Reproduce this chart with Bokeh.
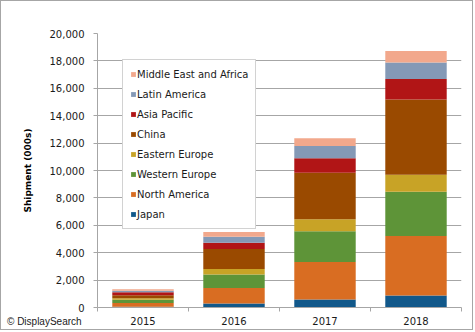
from bokeh.plotting import figure
from bokeh.models import (Range1d, FixedTicker, NumeralTickFormatter, Legend, LegendItem, Title, Div)
from bokeh.layouts import column
from bokeh.embed import file_html
from bokeh.resources import INLINE

years = ["2015", "2016", "2017", "2018"]
regions = ["Japan", "North America", "Western Europe", "Eastern Europe", "China",
           "Asia Pacific", "Latin America", "Middle East and Africa"]
japan = [60, 290, 585, 880]
north_america = [260, 1130, 2735, 4340]
western_europe = [240, 995, 2240, 3220]
eastern_europe = [110, 395, 880, 1245]
china = [220, 1460, 3390, 5505]
asia_pacific = [230, 460, 1070, 1490]
latin_america = [110, 440, 880, 1200]
middle_east_africa = [100, 345, 580, 850]
colors = ["#11588a", "#d96d22", "#5e9438", "#c8a326", "#9a4a00", "#b11516", "#8499b6", "#f2a88c"]
y_ticks = [0, 2000, 4000, 6000, 8000, 10000, 12000, 14000, 16000, 18000, 20000]

# category slots: each year occupies one unit of the x scale
xpos = [i + 0.5 for i in range(len(years))]
data = {"x": xpos}
series = [japan, north_america, western_europe, eastern_europe, china,
          asia_pacific, latin_america, middle_east_africa]
for name, vals in zip(regions, series):
    data[name] = vals

FONT = "DejaVu Sans"

p = figure(width=473, height=330, output_backend="svg", toolbar_location=None,
           x_range=Range1d(0, len(years)), y_range=Range1d(0, 20000),
           min_border_left=96, min_border_right=13,
           min_border_top=32, min_border_bottom=24)
p.styles = {"border": "1px solid #a6a6a6"}
p.outline_line_color = None
p.background_fill_color = "white"
p.border_fill_color = "white"

renderers = p.vbar_stack(regions, x="x", width=0.675, color=colors, source=data,
                         line_color=None)

# y axis
ya = p.yaxis[0]
ya.ticker = FixedTicker(ticks=y_ticks, minor_ticks=[])
ya.formatter = NumeralTickFormatter(format="0,0")
ya.axis_line_color = "#a6a6a6"
ya.major_tick_line_color = "#a6a6a6"
ya.major_tick_out = 4
ya.major_tick_in = 0
ya.minor_tick_line_color = None
ya.major_label_standoff = 9
ya.major_label_text_font = FONT
ya.major_label_text_font_size = "10px"
ya.major_label_text_color = "#1a1a1a"

p.ygrid.ticker = FixedTicker(ticks=y_ticks)
p.ygrid.grid_line_color = "#a6a6a6"
p.xgrid.grid_line_color = None

# x axis: labels at slot centers, separator ticks between slots
xa = p.xaxis[0]
xa.ticker = FixedTicker(ticks=xpos, minor_ticks=list(range(len(years) + 1)))
xa.major_label_overrides = {x: y for x, y in zip(xpos, years)}
xa.axis_line_color = "#a6a6a6"
xa.major_tick_line_color = None
xa.major_tick_out = 0
xa.major_tick_in = 0
xa.minor_tick_line_color = "#a6a6a6"
xa.minor_tick_out = 4
xa.minor_tick_in = 0
xa.major_label_standoff = 5
xa.major_label_text_font = FONT
xa.major_label_text_font_size = "10px"
xa.major_label_text_color = "#1a1a1a"

# legend
items = [LegendItem(label=regions[i], renderers=[renderers[i]]) for i in range(len(regions) - 1, -1, -1)]
legend = Legend(items=items, location=(25, 78), orientation="vertical")
legend.glyph_width = 6
legend.glyph_height = 6
legend.label_standoff = 1
legend.label_height = 14
legend.spacing = 6
legend.padding = 7
legend.margin = 0
legend.label_text_font = FONT
legend.label_text_font_size = "10px"
legend.label_text_color = "#1a1a1a"
legend.border_line_color = "#a6a6a6"
legend.background_fill_color = "white"
legend.background_fill_alpha = 1
p.add_layout(legend, "center")

# y axis title
p.add_layout(Title(text="Shipment (000s)", align="center", offset=15, standoff=28,
                   text_font=FONT, text_font_size="9px", text_font_style="bold",
                   text_color="#000000"), "left")

# source note
note = Div(text="© DisplaySearch", width=120, height=14, margin=(-15, 0, 0, 7),
           styles={"font-family": "Liberation Sans", "font-size": "10px",
                   "color": "#1a1a1a", "line-height": "14px"})

layout = column(p, note, spacing=0)
open("out.html", "w").write(file_html(layout, INLINE))
